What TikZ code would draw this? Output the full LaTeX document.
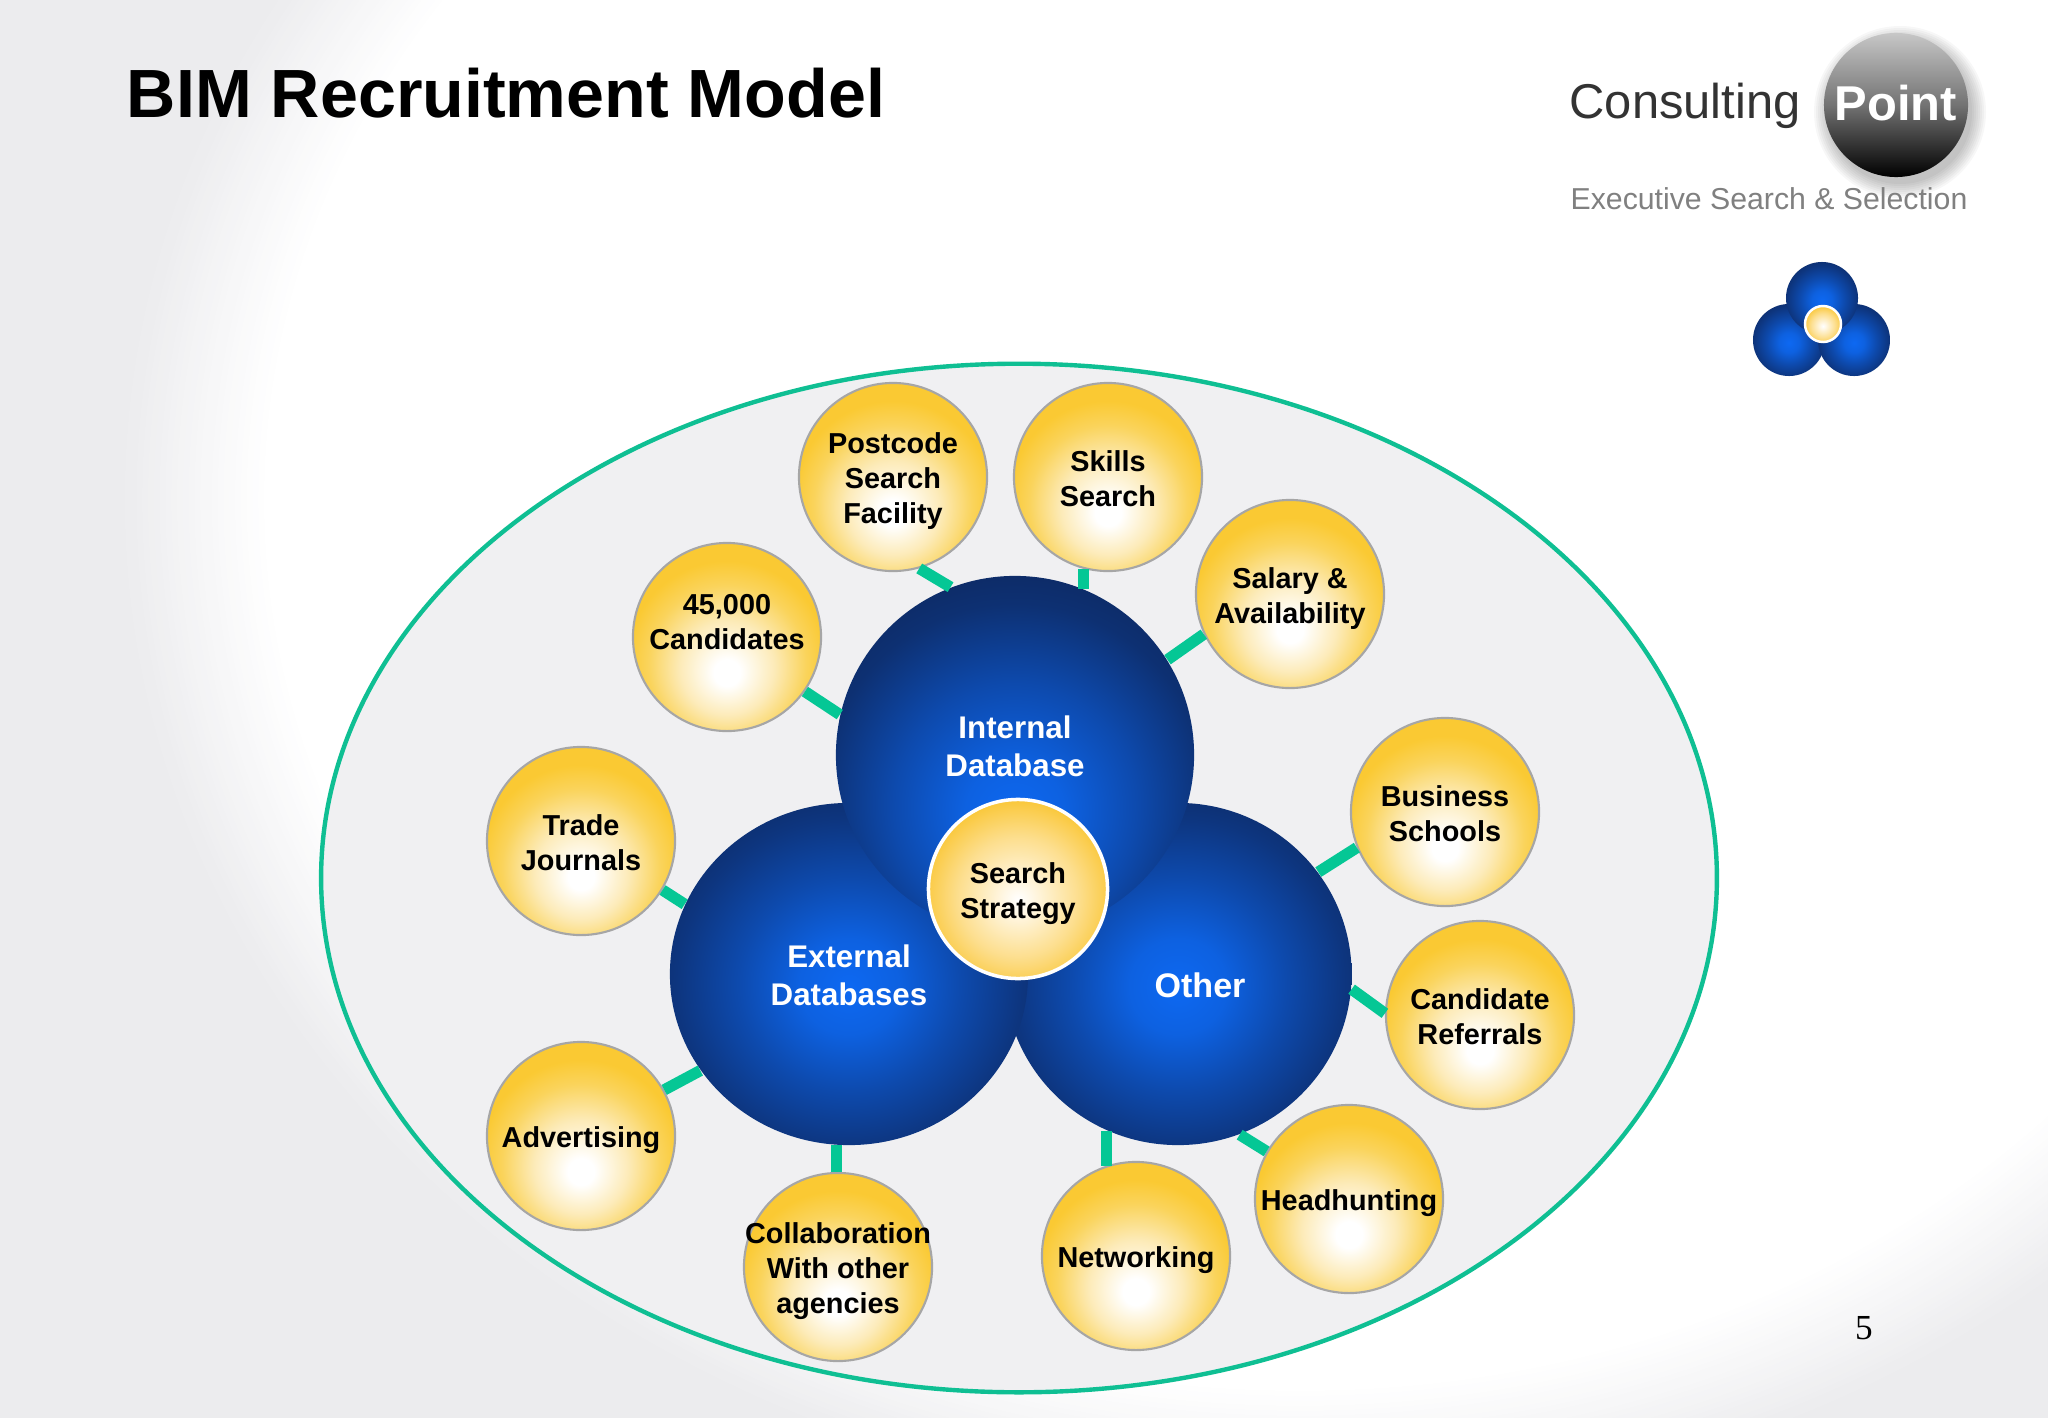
\documentclass[tikz,border=0pt]{standalone}
\usepackage{fontspec}
\usepackage{xcolor}
\usepackage{tikz}
\usetikzlibrary{shapes.geometric}
\setmainfont{Liberation Sans}
\newfontfamily\pagefont{Liberation Serif}
\definecolor{stubgreen}{HTML}{05C795}
\definecolor{ringgreen}{HTML}{0FBF93}
\definecolor{ringgray}{HTML}{F0F0F2}
\definecolor{washgray}{HTML}{ECECEE}
\pgfdeclareradialshading{yellowball}{\pgfpoint{0bp}{-10bp}}{%
  rgb(0bp)=(1,1,1);rgb(3.5bp)=(1,1,1);rgb(12.6bp)=(.99,.92,.72);
  rgb(21bp)=(.98,.83,.36);rgb(26.6bp)=(.98,.79,.2);rgb(75bp)=(.98,.79,.2)}
\pgfdeclareradialshading{searchball}{\pgfpoint{0bp}{-3bp}}{%
  rgb(0bp)=(1,1,1);rgb(4bp)=(1,.97,.9);rgb(17bp)=(.99,.87,.55);
  rgb(27bp)=(.98,.78,.22);rgb(75bp)=(.97,.76,.17)}
\pgfdeclareradialshading{blueball}{\pgfpoint{0bp}{-2bp}}{%
  rgb(0bp)=(.05,.41,.95);rgb(7bp)=(.05,.38,.88);rgb(15.5bp)=(.05,.29,.68);
  rgb(24bp)=(.05,.21,.5);rgb(31bp)=(.05,.16,.38);rgb(35bp)=(.04,.11,.27);rgb(75bp)=(.04,.11,.27)}
\pgfdeclareradialshading{blueballtop}{\pgfpoint{0bp}{-9bp}}{%
  rgb(0bp)=(.05,.41,.95);rgb(7bp)=(.05,.38,.88);rgb(17bp)=(.05,.29,.68);
  rgb(27bp)=(.05,.19,.45);rgb(35bp)=(.05,.15,.36);rgb(44bp)=(.04,.11,.27);rgb(80bp)=(.04,.11,.27)}
\newcommand{\balltop}{\rule{0pt}{1.06em}}
\newcommand{\ballbot}{\rule[-.25em]{0pt}{.25em}}
\tikzset{
  smalltext/.style={align=center,inner sep=0pt,font=\bfseries\fontsize{8.2}{10}\selectfont},
  bigtext/.style={align=center,inner sep=0pt,text=white,font=\bfseries\fontsize{8.9}{10.7}\selectfont},
  smallball/.style={smalltext,ellipse,draw=black!35,line width=.6pt,shading=yellowball,minimum width=1.88cm,minimum height=1.88cm,inner xsep=-.4cm},
  bigball/.style={bigtext,ellipse,shading=blueball},
  markball/.style={circle,shading=blueball,minimum size=.72cm,inner sep=0pt},
  stub/.style={stubgreen,line width=3.2pt}
}
\begin{document}
\begin{tikzpicture}[x=.01cm,y=-.01cm]
            \useasboundingbox (0,0) rectangle (2048,1418);
            \begin{scope}
              \clip (0,0) rectangle (2048,1418);
              \fill[washgray] (0,0) rectangle (2048,1418);
              \foreach \i [evaluate=\i as \r using 1.14-.0056*\i, evaluate=\i as \c using 100-4*\i] in {0,...,25}
                \fill[washgray!\c!white] (1300,500) ellipse ({1036*\r} and {891*\r});
            \end{scope}
            \node (title) at (506,93) {\bfseries\fontsize{19.4}{22}\selectfont BIM Recruitment Model};
            \node (page) at (1864,1328) {\pagefont\fontsize{10}{12}\selectfont 5};
            % logo
            \foreach \w in {1,...,8}
              \fill[black,opacity=.03] (1900,112) circle ({70+2*\w});
            \node[circle,minimum size=1.44cm,inner sep=0pt,top color=black!22,bottom color=black,middle color=black!55,shading angle=0,text=white,font=\bfseries\fontsize{13.9}{16}\selectfont] (point) at (1896,105) {\raisebox{1pt}{Point}};
            \node[text=black!80,font=\fontsize{13.9}{16}\selectfont] (consulting) at (1685,106) {Consulting};
            \node[text=black!50,font=\fontsize{8.6}{10}\selectfont] (slogan) at (1769,199) {Executive Search \& Selection};
            % small mark
            \node[markball] (m1) at (1789,340) {};
            \node[markball] (m2) at (1854,340) {};
            \node[markball] (m3) at (1822,298) {};
            \node[circle,shading=searchball,draw=white,line width=.7pt,minimum size=.36cm,inner sep=0pt] (m4) at (1823,324) {};
            % model
            \node[ellipse,draw=ringgreen,line width=1.25pt,fill=ringgray,minimum width=13.95cm,minimum height=10.28cm,inner sep=0pt] (ring) at (1019,878) {};
            \node[bigball,minimum width=3.47cm,minimum height=3.42cm] (other) at (1178,974) {};
            \node[bigball,minimum width=3.58cm,minimum height=3.42cm] (external) at (849,974) {\balltop External\\Databases\ballbot};
            \node[bigball,shading=blueballtop,minimum width=3.58cm,minimum height=3.58cm] (internal) at (1015,755) {};
            \node[bigtext] (internaltext) at (1015,745) {\balltop Internal\\Database\ballbot};
            \node[bigtext,font=\bfseries\fontsize{9.7}{11}\selectfont] (othertext) at (1200,984) {\balltop Other\ballbot};
            \node[smallball,shading=searchball,draw=white,line width=1pt,minimum width=1.79cm,minimum height=1.79cm] (search) at (1018,889) {\balltop Search\\Strategy\ballbot};
            \node[smallball] (postcode) at (893,477) {\balltop Postcode\\Search\\Facility\ballbot};
            \node[smallball] (skills) at (1108,477) {\balltop Skills\\Search\ballbot};
            \node[smallball] (salary) at (1290,594) {\balltop Salary \&\\Availability\ballbot};
            \node[smallball] (business) at (1445,812) {\balltop Business\\Schools\ballbot};
            \node[smallball] (referrals) at (1480,1015) {\balltop Candidate\\Referrals\ballbot};
            \node[smallball] (headhunting) at (1349,1199) {\balltop Headhunting\ballbot};
            \node[smallball] (networking) at (1136,1256) {\balltop Networking\ballbot};
            \node[smallball] (collaboration) at (838,1267) {\balltop Collaboration\\With other\\agencies\ballbot};
            \node[smallball] (advertising) at (581,1136) {\balltop Advertising\ballbot};
            \node[smallball] (journals) at (581,841) {\balltop Trade\\Journals\ballbot};
            \node[smallball] (candidates) at (727,637) {};
            \node[smalltext] (candidatestext) at (727,620) {\balltop 45,000\\Candidates\ballbot};
              \draw[stub] (postcode.-74)--(internal.111);
              \draw[stub] (skills.-105)--(skills.-105 |- internal.67);
              \draw[stub] (salary.205)--(internal.32);
              \draw[stub] (candidates.-35)--(internal.167);
              \draw[stub] (journals.-31)--(external.157);
              \draw[stub] (advertising.29)--(external.213);
              \draw[stub] (collaboration.91)--(collaboration.91 |- external.266);
              \draw[stub] (networking.108)--(networking.108 |- other.246);
              \draw[stub] (headhunting.150)--(other.-69);
              \draw[stub] (referrals.179)--(other.-5);
              \draw[stub] (business.202)--(other.36);
            \end{tikzpicture}
\end{document}
